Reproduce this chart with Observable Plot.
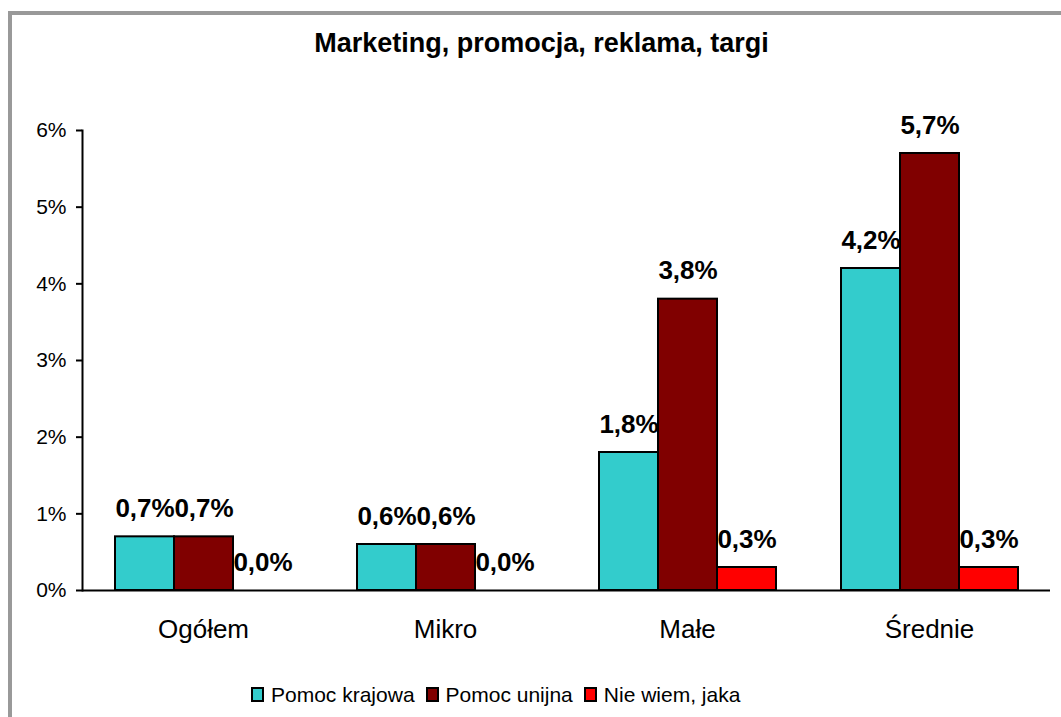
<!DOCTYPE html>
<html>
<head>
<meta charset="utf-8">
<script src="https://cdn.jsdelivr.net/npm/d3@7"></script>
<script src="https://cdn.jsdelivr.net/npm/@observablehq/plot@0.6"></script>
<style>
  html, body { margin: 0; padding: 0; background: #fff; overflow: hidden; }
  #wrap { position: relative; width: 1061px; height: 717px; overflow: hidden; font-family: "Liberation Sans", Arial, sans-serif; }
  #frame { position: absolute; left: 8px; top: 11px; width: 1200px; height: 900px; border: 4px solid #999999; box-sizing: border-box; }
  #chart { position: absolute; left: 0; top: 0; }
  #title { position: absolute; left: 0; width: 1083px; top: 30px; text-align: center; font-weight: bold; font-size: 27px; line-height: 27px; color: #000; }
  #legend { position: absolute; left: 251px; top: 684px; display: flex; align-items: center; font-size: 21px; line-height: 21px; color: #000; }
  .sw { width: 13px; height: 15px; border: 2px solid #000; box-sizing: border-box; margin-right: 7px; }
  .lab { margin-right: 11px; white-space: nowrap; }
</style>
</head>
<body>
<div id="wrap">
  <div id="frame"></div>
  <div id="chart"></div>
  <div id="title"></div>
  <div id="legend"></div>
</div>
<script>
const titleText = "Marketing, promocja, reklama, targi";
const categories = ["Ogółem", "Mikro", "Małe", "Średnie"];
const series = ["Pomoc krajowa", "Pomoc unijna", "Nie wiem, jaka"];
const pomocKrajowa = [0.7, 0.6, 1.8, 4.2];
const pomocUnijna = [0.7, 0.6, 3.8, 5.7];
const nieWiem = [0.0, 0.0, 0.3, 0.3];
const seriesColors = ["#33CCCC", "#800000", "#FF0000"];
const yTicks = [0, 1, 2, 3, 4, 5, 6];

const valuesBySeries = [pomocKrajowa, pomocUnijna, nieWiem];
const data = categories.flatMap((cat, i) =>
  series.map((s, j) => ({cat, s, v: valuesBySeries[j][i]}))
);
const fmt = v => v.toFixed(1).replace(".", ",") + "%";

const plot = Plot.plot({
  width: 1061,
  height: 717,
  marginTop: 130,
  marginBottom: 127,
  marginLeft: 82,
  marginRight: 11,
  style: {fontFamily: "'Liberation Sans', Arial, sans-serif", fontSize: "21px", color: "#000", background: "transparent", overflow: "visible"},
  fx: {domain: categories, padding: 0, label: null},
  x: {domain: series, paddingInner: 0, paddingOuter: 0.517, axis: null},
  y: {domain: [0, 6], label: null},
  color: {domain: series, range: seriesColors},
  marks: [
    Plot.barY(data, {fx: "cat", x: "s", y: "v", fill: "s", stroke: "#000", strokeWidth: 2}),
    Plot.ruleY([0], {stroke: "#000", strokeWidth: 2}),
    Plot.frame({anchor: "left", facetAnchor: "left", stroke: "#000", strokeWidth: 2}),
    Plot.axisY({ticks: yTicks, tickFormat: d => d + "%", tickSize: 6, tickPadding: 10, fontSize: 21, strokeWidth: 2, label: null}),
    Plot.axisFx({anchor: "bottom", tickSize: 0, tickPadding: 29, fontSize: 26, label: null}),
    Plot.text(data, {fx: "cat", x: "s", y: "v", text: d => fmt(d.v), dy: -28, fontWeight: "bold", fontSize: 26, fill: "#000"})
  ]
});
document.getElementById("chart").appendChild(plot);

document.getElementById("title").textContent = titleText;
const legend = d3.select("#legend");
series.forEach((s, i) => {
  legend.append("div").attr("class", "sw").style("background", seriesColors[i]);
  legend.append("div").attr("class", "lab").text(s);
});
</script>
</body>
</html>
